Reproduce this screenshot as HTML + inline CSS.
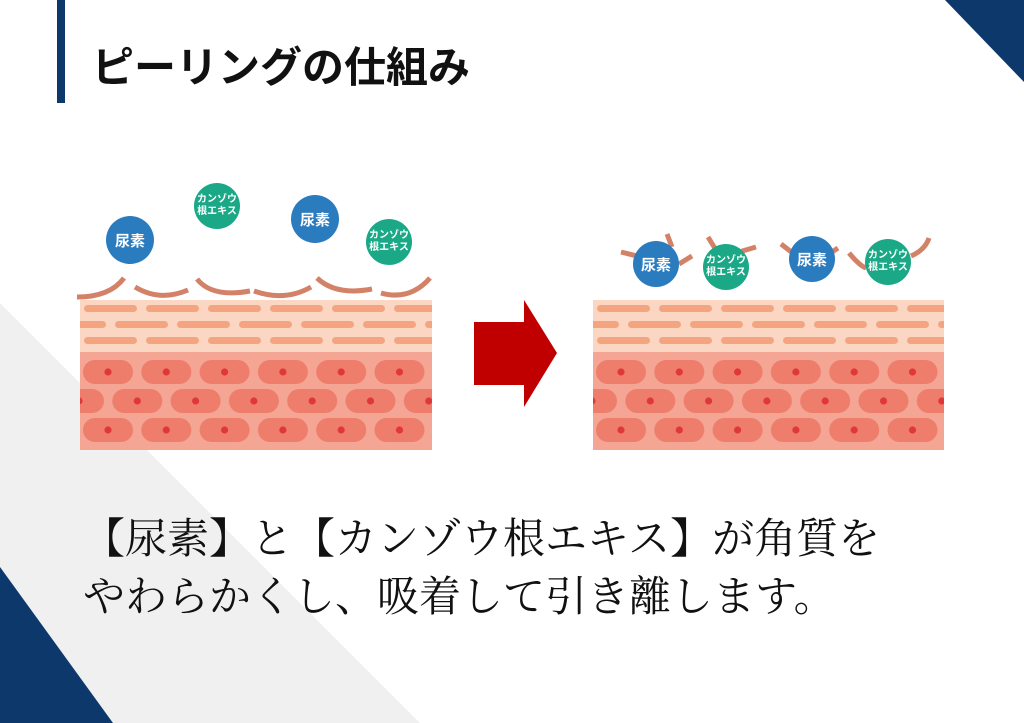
<!DOCTYPE html>
<html><head><meta charset="utf-8">
<style>
html,body{margin:0;padding:0;background:#fff;}
body{width:1024px;height:723px;overflow:hidden;position:relative;}
svg{position:absolute;left:0;top:0;}
.t{font-family:"Liberation Sans","Noto Sans CJK JP",sans-serif;font-weight:bold;fill:#fff;}
</style></head><body>
<svg width="1024" height="723" viewBox="0 0 1024 723" xmlns="http://www.w3.org/2000/svg">
<defs>
 <pattern id="cellA" x="83" y="359" width="58.3" height="58" patternUnits="userSpaceOnUse">
  <rect x="0" y="1" width="50" height="24" rx="12" fill="#ee7d6c"/><circle cx="25" cy="13" r="3.6" fill="#e0383a"/>
 </pattern>
 <pattern id="cellB" x="54" y="388" width="58.3" height="26" patternUnits="userSpaceOnUse">
  <rect x="0" y="1" width="50" height="24" rx="12" fill="#ee7d6c"/><circle cx="25" cy="13" r="3.6" fill="#e0383a"/>
 </pattern>
 <pattern id="dashA" x="84" y="305" width="62" height="32" patternUnits="userSpaceOnUse">
  <rect x="0" y="0" width="53" height="7" rx="3.5" fill="#f4a57f"/>
 </pattern>
 <pattern id="dashB" x="53" y="321" width="62" height="8" patternUnits="userSpaceOnUse">
  <rect x="0" y="0" width="53" height="7" rx="3.5" fill="#f4a57f"/>
 </pattern>
 <pattern id="cellA2" x="596" y="359" width="58.3" height="58" patternUnits="userSpaceOnUse">
  <rect x="0" y="1" width="50" height="24" rx="12" fill="#ee7d6c"/><circle cx="25" cy="13" r="3.6" fill="#e0383a"/>
 </pattern>
 <pattern id="cellB2" x="567" y="388" width="58.3" height="26" patternUnits="userSpaceOnUse">
  <rect x="0" y="1" width="50" height="24" rx="12" fill="#ee7d6c"/><circle cx="25" cy="13" r="3.6" fill="#e0383a"/>
 </pattern>
 <pattern id="dashA2" x="597" y="305" width="62" height="32" patternUnits="userSpaceOnUse">
  <rect x="0" y="0" width="53" height="7" rx="3.5" fill="#f4a57f"/>
 </pattern>
 <pattern id="dashB2" x="566" y="321" width="62" height="8" patternUnits="userSpaceOnUse">
  <rect x="0" y="0" width="53" height="7" rx="3.5" fill="#f4a57f"/>
 </pattern>
</defs>

<!-- background shapes -->
<polygon points="0,303 420,723 0,723" fill="#f0f0f1"/>
<polygon points="0,567 0,723 113,723" fill="#0c386c"/>
<polygon points="945,0 1024,0 1024,82" fill="#0c386c"/>
<rect x="57" y="0" width="8" height="103" fill="#0c386c"/>
<text x="92" y="82" font-family="'Liberation Sans','Noto Sans CJK JP',sans-serif" font-weight="bold" font-size="42" fill="#111">ピーリングの仕組み</text>

<!-- left skin -->
<rect x="80" y="300" width="352" height="52" fill="#fad6c3"/>
<rect x="80" y="305" width="352" height="40" fill="url(#dashA)"/>
<rect x="80" y="321" width="352" height="8" fill="url(#dashB)"/>
<rect x="80" y="352" width="352" height="98" fill="#f4a594"/>
<rect x="80" y="359" width="352" height="84" fill="url(#cellA)"/>
<rect x="80" y="388" width="352" height="26" fill="url(#cellB)"/>

<!-- left arcs -->
<g fill="none" stroke="#d38268" stroke-width="5">
 <path d="M77,297 Q110,297 124,278"/>
 <path d="M135,287 Q160,302 188,290"/>
 <path d="M197,279 Q212,298 250,291"/>
 <path d="M254,291 Q285,302 311,287"/>
 <path d="M317,278 Q336,296 372,289"/>
 <path d="M381,293 Q410,301 430,278"/>
</g>
<circle cx="130" cy="240" r="24" fill="#2b7bbf"/>
<text class="t" x="130" y="246" font-size="15" text-anchor="middle">尿素</text>
<circle cx="217" cy="206" r="23" fill="#1aa886"/>
<text class="t" x="217" y="202" font-size="10" text-anchor="middle">カンゾウ</text>
<text class="t" x="217" y="214" font-size="10" text-anchor="middle">根エキス</text>
<circle cx="315" cy="219" r="24" fill="#2b7bbf"/>
<text class="t" x="315" y="225" font-size="15" text-anchor="middle">尿素</text>
<circle cx="389" cy="242" r="23" fill="#1aa886"/>
<text class="t" x="389" y="238" font-size="10" text-anchor="middle">カンゾウ</text>
<text class="t" x="389" y="250" font-size="10" text-anchor="middle">根エキス</text>

<!-- arrow -->
<rect x="474" y="322" width="51" height="63" fill="#c00000"/>
<polygon points="524,300 557,353 524,407" fill="#c00000"/>

<!-- right skin -->
<rect x="593" y="300" width="351" height="52" fill="#fad6c3"/>
<rect x="593" y="305" width="351" height="40" fill="url(#dashA2)"/>
<rect x="593" y="321" width="351" height="8" fill="url(#dashB2)"/>
<rect x="593" y="352" width="351" height="98" fill="#f4a594"/>
<rect x="593" y="359" width="351" height="84" fill="url(#cellA2)"/>
<rect x="593" y="388" width="351" height="26" fill="url(#cellB2)"/>

<g fill="none" stroke="#d38268" stroke-width="5">
 <path d="M621,252 L637,256"/>
 <path d="M667,234 L672,247"/>
 <path d="M679,264 L692,256"/>
 <path d="M708,237 L716,250"/>
 <path d="M739,252 L756,247"/>
 <path d="M781,244 L794,254"/>
 <path d="M829,254 L838,248"/>
 <path d="M849,253 Q860,266 866,268"/>
 <path d="M911,256 Q925,250 929,238"/>
</g>
<circle cx="656" cy="264" r="23" fill="#2b7bbf"/>
<text class="t" x="656" y="270" font-size="15" text-anchor="middle">尿素</text>
<circle cx="726" cy="267" r="23" fill="#1aa886"/>
<text class="t" x="726" y="263" font-size="10" text-anchor="middle">カンゾウ</text>
<text class="t" x="726" y="275" font-size="10" text-anchor="middle">根エキス</text>
<circle cx="812" cy="259" r="23" fill="#2b7bbf"/>
<text class="t" x="812" y="265" font-size="15" text-anchor="middle">尿素</text>
<circle cx="888" cy="262" r="23" fill="#1aa886"/>
<text class="t" x="888" y="258" font-size="10" text-anchor="middle">カンゾウ</text>
<text class="t" x="888" y="270" font-size="10" text-anchor="middle">根エキス</text>

<g font-family="'Liberation Serif','Noto Serif CJK SC',serif" font-size="42" fill="#111">
 <text x="83" y="553">【尿素】と【カンゾウ根エキス】が角質を</text>
 <text x="83" y="611">やわらかくし、吸着して引き離します。</text>
</g>
</svg>
</body></html>
